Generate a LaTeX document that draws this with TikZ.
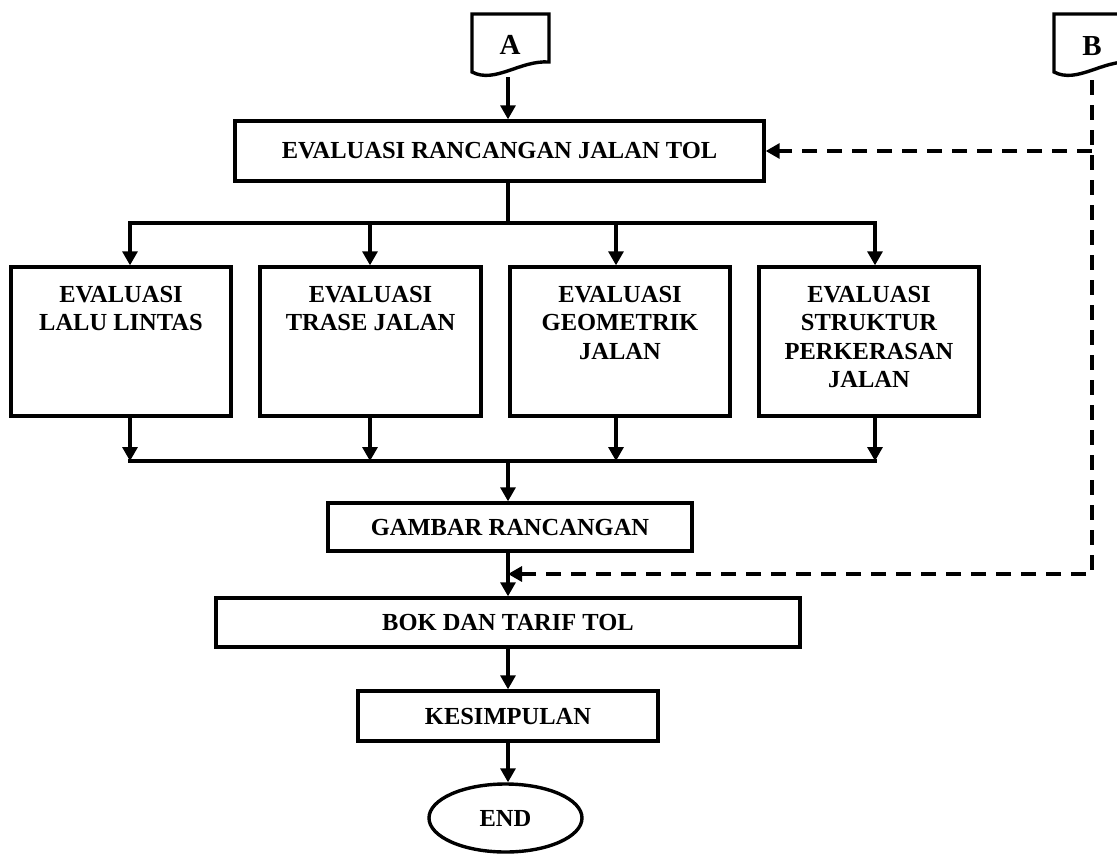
\documentclass[tikz,border=0pt]{standalone}
\usepackage{fontspec}
\setmainfont{Liberation Serif}
\usetikzlibrary{arrows.meta,shapes.geometric}
\begin{document}
\begin{tikzpicture}[x=1pt,y=-1pt,
  box/.style={draw, line width=3.4pt, inner sep=0pt},
  txt/.style={font=\bfseries\fontsize{24.5}{28.5}\selectfont, align=center, inner sep=0pt},
  big/.style={font=\bfseries\fontsize{29}{32}\selectfont, inner sep=0pt},
  conn/.style={line width=3.2pt},
  arr/.style={conn, -{Triangle[width=15pt,length=14pt]}},
  dsh/.style={line width=3.2pt, dash pattern=on 15pt off 10pt, -{Triangle[width=15pt,length=14pt]}},
]
\useasboundingbox (0,0) rectangle (1117,855);

% off-page connectors A and B
\draw[box] (472,14) -- (549,14) -- (549,62) .. controls (520,60) and (495,84) .. (472,72) -- cycle;
\node[big] (A) at (510,45) {A};
\begin{scope}[xshift=582pt]
\draw[box] (472,14) -- (549,14) -- (549,62) .. controls (520,60) and (495,84) .. (472,72) -- cycle;
\end{scope}
\node[big] (B) at (1092,46) {B};
\coordinate (Abot) at (508,77);
\coordinate (Bbot) at (1092,80);

% boxes
\node[box, txt, minimum width=529pt, minimum height=60pt] (eval) at (499.5,151) {EVALUASI RANCANGAN JALAN TOL};
\node[box, minimum width=220pt, minimum height=149pt] (b1) at (121,341.5) {};
\node[box, minimum width=221pt, minimum height=149pt] (b2) at (370.5,341.5) {};
\node[box, minimum width=220pt, minimum height=149pt] (b3) at (620,341.5) {};
\node[box, minimum width=220pt, minimum height=149pt] (b4) at (869,341.5) {};
\node[txt, anchor=north] (t1) at (121,286) {EVALUASI\\LALU LINTAS};
\node[txt, anchor=north] (t2) at (370.5,286) {EVALUASI\\TRASE JALAN};
\node[txt, anchor=north] (t3) at (620,286) {EVALUASI\\GEOMETRIK\\JALAN};
\node[txt, anchor=north] (t4) at (869,286) {EVALUASI\\STRUKTUR\\PERKERASAN\\JALAN};
\node[box, txt, minimum width=364pt, minimum height=48pt] (gam) at (510,527) {GAMBAR RANCANGAN};
\node[box, txt, minimum width=584pt, minimum height=49pt] (bok) at (508,622.5) {BOK DAN TARIF TOL};
\node[box, txt, minimum width=300pt, minimum height=50pt] (kes) at (508,716) {KESIMPULAN};
\node[box, txt, ellipse, minimum width=153pt, minimum height=68pt] (end) at (505.5,818) {END};

% helper coordinates
\coordinate (sp) at (508,0);
\coordinate (tb) at (0,223);
\coordinate (bb) at (0,461);
\coordinate (c1) at (130,0);
\coordinate (c2) at (370,0);
\coordinate (c3) at (616,0);
\coordinate (c4) at (875,0);
\coordinate (dx) at (1092,0);
\coordinate (dj) at (1092,574);

% connectors
\draw[arr] (Abot) -- (Abot |- eval.north);
\draw[conn] (eval.south -| sp) -- (sp |- tb);
\draw[conn, line cap=rect] (c1 |- tb) -- (c4 |- tb);
\foreach \c/\b in {c1/b1,c2/b2,c3/b3,c4/b4} {
  \draw[arr] (\c |- tb) -- (\c |- \b.north);
  \draw[arr] (\c |- \b.south) -- (\c |- bb);
}
\draw[conn, line cap=rect] (c1 |- bb) -- (c4 |- bb);
\draw[arr] (sp |- bb) -- (sp |- gam.north);
\draw[arr] (sp |- gam.south) -- (sp |- bok.north);
\draw[arr] (sp |- bok.south) -- (sp |- kes.north);
\draw[arr] (sp |- kes.south) -- (sp |- end.north);

% dashed feedback from B
\draw[dsh] (Bbot) -- (dj) -- (sp |- dj);
\draw[dsh] (dx |- eval.east) -- (eval.east);
\end{tikzpicture}
\end{document}
